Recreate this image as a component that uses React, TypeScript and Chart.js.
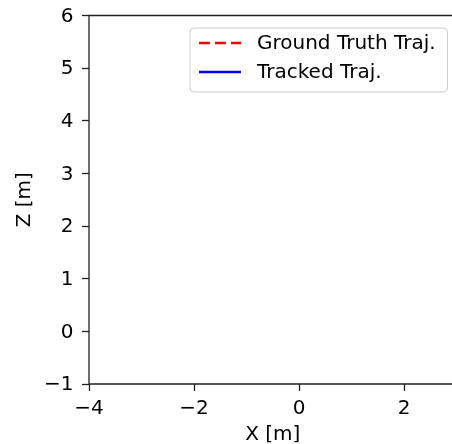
import React, { useEffect, useRef } from "react";
import { Chart, registerables } from "chart.js";

Chart.register(...registerables);

// Data (trajectories are empty in the reference view)
const groundTruthX: number[] = [];
const groundTruthZ: number[] = [];
const trackedX: number[] = [];
const trackedZ: number[] = [];

const seriesLabels = ["Ground Truth Traj.", "Tracked Traj."];
const xTickValues = [-4, -2, 0, 2];
const zTickValues = [-1, 0, 1, 2, 3, 4, 5, 6];
const xRange = [-4, 3];
const zRange = [-1, 6];
const xTitle = "X [m]";
const zTitle = "Z [m]";

const FONT = "'DejaVu Sans', sans-serif";
const FONT_SIZE = 20;
const AXIS_COLOR = "#222";

const fmt = (v: number) => (v < 0 ? "\u2212" + Math.abs(v) : String(v));

const frameAndLegend = {
  id: "frameAndLegend",
  afterDraw(chart: any) {
    const { ctx, chartArea } = chart;
    const { left, right, top, bottom } = chartArea;
    ctx.save();
    ctx.strokeStyle = AXIS_COLOR;
    ctx.lineWidth = 1.3;
    ctx.beginPath();
    ctx.rect(left, top, right - left, bottom - top);
    ctx.stroke();

    // legend box (upper right)
    const bx = right - 266.5;
    const by = top + 12.5;
    const bw = 257.5;
    const bh = 64;
    ctx.beginPath();
    if (ctx.roundRect) ctx.roundRect(bx, by, bw, bh, 4);
    else ctx.rect(bx, by, bw, bh);
    ctx.fillStyle = "rgba(255,255,255,0.8)";
    ctx.fill();
    ctx.strokeStyle = "#cccccc";
    ctx.lineWidth = 1;
    ctx.stroke();

    const datasets = chart.data.datasets;
    datasets.forEach((ds: any, i: number) => {
      const y = by + 15 + i * 29;
      ctx.beginPath();
      ctx.setLineDash(ds.borderDash || []);
      ctx.strokeStyle = ds.borderColor;
      ctx.lineWidth = ds.borderWidth;
      ctx.moveTo(bx + 9, y);
      ctx.lineTo(bx + 51, y);
      ctx.stroke();
      ctx.setLineDash([]);
      ctx.fillStyle = "#000";
      ctx.font = `${FONT_SIZE}px ${FONT}`;
      ctx.textBaseline = "middle";
      ctx.textAlign = "left";
      ctx.fillText(ds.label, bx + 67, y + 1);
    });
    ctx.restore();
  },
};

export default function App() {
  const canvasRef = useRef<HTMLCanvasElement | null>(null);

  useEffect(() => {
    const canvas = canvasRef.current;
    if (!canvas) return;
    const chart = new Chart(canvas, {
      type: "scatter",
      data: {
        datasets: [
          {
            label: seriesLabels[0],
            data: groundTruthX.map((x, i) => ({ x, y: groundTruthZ[i] })),
            showLine: true,
            borderColor: "#ff0000",
            backgroundColor: "#ff0000",
            borderDash: [11, 5],
            borderWidth: 2.5,
            pointRadius: 0,
          },
          {
            label: seriesLabels[1],
            data: trackedX.map((x, i) => ({ x, y: trackedZ[i] })),
            showLine: true,
            borderColor: "#0000ff",
            backgroundColor: "#0000ff",
            borderWidth: 2.5,
            pointRadius: 0,
          },
        ],
      },
      options: {
        animation: false,
        responsive: false,
        devicePixelRatio: 1,
        layout: { padding: { top: 15.5, right: 23.5, left: 0, bottom: 0 } },
        plugins: {
          legend: { display: false },
          tooltip: { enabled: false },
        },
        scales: {
          x: {
            type: "linear",
            min: xRange[0],
            max: xRange[1],
            afterBuildTicks: (scale: any) => {
              scale.ticks = xTickValues.map((v) => ({ value: v }));
            },
            afterFit: (scale: any) => {
              scale.height = 60;
              scale.paddingLeft = 0;
              scale.paddingRight = 0;
            },
            grid: {
              display: true,
              drawOnChartArea: false,
              drawTicks: true,
              tickLength: 7,
              color: AXIS_COLOR,
              tickColor: AXIS_COLOR,
              tickWidth: 1.3,
            },
            border: { display: false },
            ticks: {
              color: "#000",
              padding: 6,
              maxRotation: 0,
              autoSkip: false,
              font: { family: FONT, size: FONT_SIZE },
              callback: (v: any) => fmt(Number(v)),
            },
            title: {
              display: true,
              text: xTitle,
              color: "#000",
              font: { family: FONT, size: FONT_SIZE },
              padding: { top: 0, bottom: -3 },
            },
          },
          y: {
            type: "linear",
            min: zRange[0],
            max: zRange[1],
            afterBuildTicks: (scale: any) => {
              scale.ticks = zTickValues.map((v) => ({ value: v }));
            },
            afterFit: (scale: any) => {
              scale.width = 89;
              scale.paddingTop = 0;
              scale.paddingBottom = 0;
            },
            grid: {
              display: true,
              drawOnChartArea: false,
              drawTicks: true,
              tickLength: 7,
              color: AXIS_COLOR,
              tickColor: AXIS_COLOR,
              tickWidth: 1.3,
            },
            border: { display: false },
            ticks: {
              color: "#000",
              padding: 8.5,
              labelOffset: 1,
              autoSkip: false,
              font: { family: FONT, size: FONT_SIZE },
              callback: (v: any) => fmt(Number(v)),
            },
            title: {
              display: true,
              text: zTitle,
              color: "#000",
              font: { family: FONT, size: FONT_SIZE },
              padding: { top: 13, bottom: 0 },
            },
          },
        },
      },
      plugins: [frameAndLegend],
    } as any);
    return () => chart.destroy();
  }, []);

  return (
    <div
      style={{
        position: "fixed",
        left: 0,
        top: 0,
        width: 452,
        height: 444,
        overflow: "hidden",
        background: "#fff",
      }}
    >
      <canvas ref={canvasRef} width={480} height={444} style={{ display: "block" }} />
    </div>
  );
}
